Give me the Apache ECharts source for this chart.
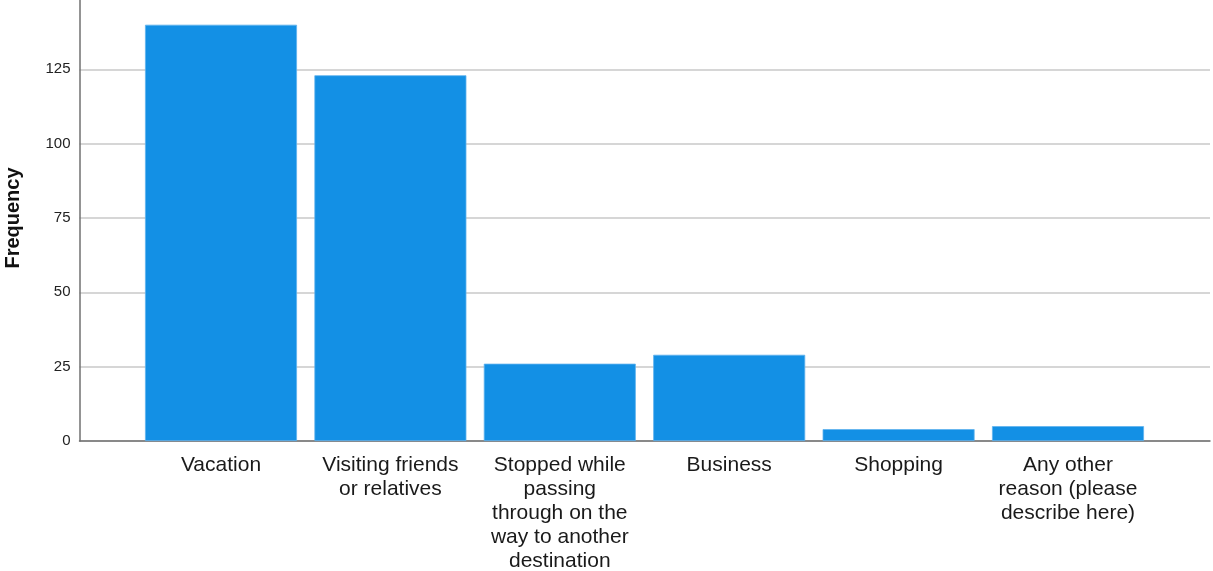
<!DOCTYPE html>
<html>
<head>
<meta charset="utf-8">
<script src="https://cdn.jsdelivr.net/npm/echarts@6/dist/echarts.min.js"></script>
<style>html,body{margin:0;padding:0;background:#fff}#c{width:1213px;height:571px}</style>
</head>
<body>
<div id="c"></div>
<script>
const categories = ['Vacation', 'Visiting friends or relatives', 'Stopped while passing through on the way to another destination', 'Business', 'Shopping', 'Any other reason (please describe here)'];
const tickLabels = ['Vacation', 'Visiting friends\nor relatives', 'Stopped while\npassing\nthrough on the\nway to another\ndestination', 'Business', 'Shopping', 'Any other\nreason (please\ndescribe here)'];
const frequency = [140, 123, 26, 29, 4, 5];
const yTicks = [0, 25, 50, 75, 100, 125];

const FONT = '"Liberation Sans", Arial, sans-serif';
const chart = echarts.init(document.getElementById('c'), null, {renderer: 'canvas'});
chart.setOption({
  animation: false,
  backgroundColor: '#fff',
  grid: [
    {left: 79.5, right: 3, top: -5, bottom: 130, containLabel: false, outerBoundsMode: 'none'},
    {left: 136.3, right: 60.3, top: -5, bottom: 130, containLabel: false, outerBoundsMode: 'none'}
  ],
  xAxis: [
    {gridIndex: 0, type: 'value', min: 0, max: 1, axisLine: {show: true, onZero: false, lineStyle: {color: '#707070', width: 1.5}},
     axisTick: {show: false}, axisLabel: {show: false}, splitLine: {show: false}},
    {gridIndex: 1, type: 'category', data: tickLabels, axisLine: {show: false}, axisTick: {show: false},
     axisLabel: {interval: 0, fontSize: 21, lineHeight: 24, color: '#1a1a1a', fontFamily: FONT, margin: 12, align: 'center'}}
  ],
  yAxis: [
    {gridIndex: 0, type: 'value', min: 0, max: 150, interval: 25,
     name: 'Frequency', nameLocation: 'middle', nameGap: 56, nameRotate: 90,
     nameTextStyle: {fontSize: 20, fontWeight: 'bold', color: '#111', fontFamily: FONT},
     axisLine: {show: true, lineStyle: {color: '#707070', width: 1.5}}, axisTick: {show: false},
     axisLabel: {fontSize: 15, color: '#222', fontFamily: FONT, margin: 9,
       formatter: v => yTicks.indexOf(v) >= 0 ? String(v) : ''},
     splitLine: {show: true, lineStyle: {color: '#c8c8c8', width: 1.5}}},
    {gridIndex: 1, type: 'value', min: 0, max: 150, show: false, splitLine: {show: false}}
  ],
  series: [{
    type: 'bar', xAxisIndex: 1, yAxisIndex: 1, data: frequency, name: 'Frequency',
    barWidth: 152,
    itemStyle: {color: '#1390e5', borderColor: '#5fb3ee', borderWidth: 0.8}
  }]
});
</script>
</body>
</html>
